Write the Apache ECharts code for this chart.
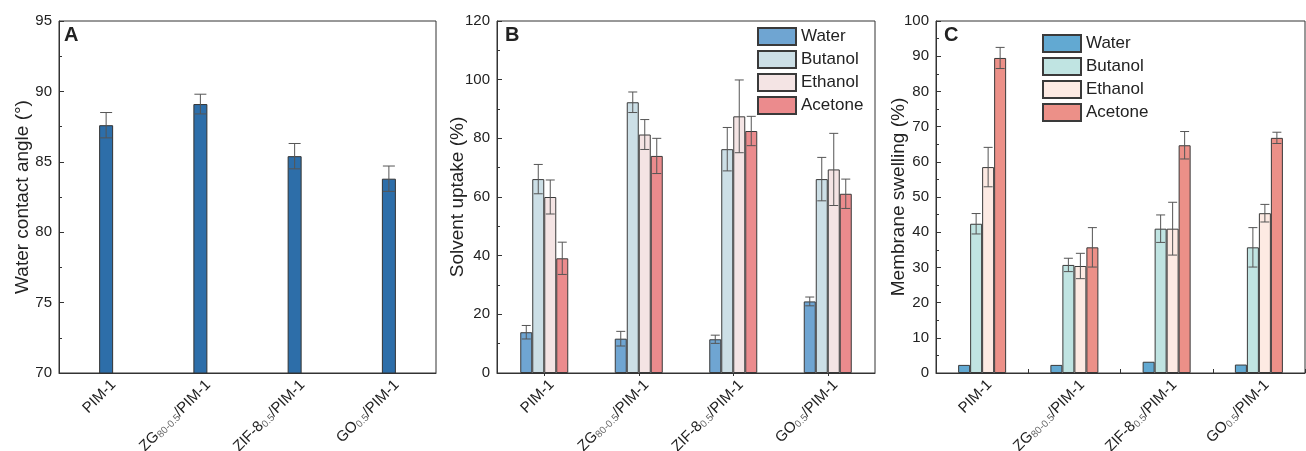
<!DOCTYPE html>
<html>
<head>
<meta charset="utf-8">
<script src="https://cdn.jsdelivr.net/npm/echarts@6/dist/echarts.min.js"></script>
<style>
html,body{margin:0;padding:0;background:#fff;}
#wrap{position:relative;width:1306px;height:451px;}
.pane{position:absolute;top:0;left:0;width:1306px;height:451px;}
</style>
</head>
<body>
<div id="wrap">
  <div id="ca" class="pane"></div>
  <div id="cb" class="pane"></div>
  <div id="cc" class="pane"></div>
</div>
<script>
// ---------- data ----------
const categories = ['PIM-1', 'ZG{s|80-0.5}/PIM-1', 'ZIF-8{s|0.5}/PIM-1', 'GO{s|0.5}/PIM-1'];
const solvents = ['Water', 'Butanol', 'Ethanol', 'Acetone'];

// Panel A: water contact angle (deg)
const contactAngle = [87.6, 89.1, 85.4, 83.8];
const contactAngleErr = [0.9, 0.7, 0.9, 0.9];

// Panel B: solvent uptake (%)
const uptakeWater   = [13.9, 11.7, 11.5, 24.4];
const uptakeButanol = [66.1, 92.3, 76.3, 66.1];
const uptakeEthanol = [60.0, 81.3, 87.5, 69.4];
const uptakeAcetone = [39.1, 74.0, 82.5, 61.1];
const uptakeWaterErr   = [2.3, 2.5, 1.4, 1.5];
const uptakeButanolErr = [5.0, 3.5, 7.4, 7.4];
const uptakeEthanolErr = [5.8, 5.1, 12.4, 12.3];
const uptakeAcetoneErr = [5.5, 6.0, 5.0, 5.0];

// Panel C: membrane swelling (%)
const swellWater   = [2.3, 2.3, 3.2, 2.4];
const swellButanol = [42.4, 30.7, 41.0, 35.7];
const swellEthanol = [58.5, 30.4, 41.0, 45.4];
const swellAcetone = [89.5, 35.7, 64.7, 66.8];
const swellWaterErr   = [0, 0, 0, 0];
const swellButanolErr = [2.9, 1.9, 3.9, 5.6];
const swellEthanolErr = [5.6, 3.6, 7.5, 2.5];
const swellAcetoneErr = [3.0, 5.6, 3.9, 1.6];

// ---------- styling ----------
const FONT = 'Liberation Sans, Arial, sans-serif';
const TXT = '#222';
const AX = '#333';
const colA = '#2D6EA9';
const colB = ['#6FA5D2', '#CCDFE6', '#F4E4E4', '#EB8B8D'];
const colC = ['#62A9D2', '#C0E4E2', '#FDEAE3', '#EC9088'];

function xAxisCfg(tick) {
  return {
    type: 'category',
    data: categories,
    axisLine: {lineStyle: {color: AX, width: 1}},
    axisTick: tick,
    axisLabel: {
      rotate: 45, margin: 2, verticalAlign: 'top', padding: [3, 0, 0, 0],
      color: TXT, fontSize: 15, fontFamily: FONT,
      rich: {s: {fontSize: 10, fontFamily: FONT, color: '#666', verticalAlign: 'bottom', padding: [6, 0, 0, 0]}}
    },
    splitLine: {show: false}
  };
}
function yAxisCfg(name, min, max, interval, gap) {
  return {
    type: 'value', min: min, max: max, interval: interval,
    name: name, nameLocation: 'middle', nameRotate: 90, nameGap: gap, nameMoveOverlap: false,
    nameTextStyle: {fontSize: 19, color: TXT, fontFamily: FONT},
    axisLine: {show: true, lineStyle: {color: AX, width: 1}},
    axisTick: {show: true, inside: true, length: 5, lineStyle: {color: AX}},
    minorTick: {show: true, splitNumber: 2, length: 3, lineStyle: {color: AX}},
    axisLabel: {color: TXT, fontSize: 15, fontFamily: FONT, margin: 7},
    splitLine: {show: false}
  };
}
function gridCfg(left, width) {
  return {left: left, top: 21, width: width, height: 352, show: true,
    borderColor: AX, borderWidth: 1, containLabel: false, outerBoundsMode: 'none'};
}
function errSeries(vals, errs, offset, cap) {
  return {
    type: 'custom', z: 5, silent: true,
    data: vals.map((v, i) => [i, v, errs[i]]),
    renderItem: function (params, api) {
      const e = api.value(2);
      if (!e) return null;
      const i = api.value(0), v = api.value(1);
      const hi = api.coord([i, v + e]);
      const lo = api.coord([i, v - e]);
      const x = hi[0] + offset;
      const st = {stroke: '#555', lineWidth: 1};
      return {type: 'group', children: [
        {type: 'line', shape: {x1: x, y1: hi[1], x2: x, y2: lo[1]}, style: st},
        {type: 'line', shape: {x1: x - cap / 2, y1: hi[1], x2: x + cap / 2, y2: hi[1]}, style: st},
        {type: 'line', shape: {x1: x - cap / 2, y1: lo[1], x2: x + cap / 2, y2: lo[1]}, style: st}
      ]};
    }
  };
}
function letter(t, left) {
  return {text: t, left: left, top: 25, padding: 0,
    textStyle: {fontSize: 20, fontWeight: 'bold', color: TXT, fontFamily: FONT}};
}

// ---------- Panel A ----------
const chA = echarts.init(document.getElementById('ca'), null, {renderer: 'canvas'});
chA.setOption({
  animation: false,
  title: letter('A', 64),
  grid: gridCfg(59, 377),
  xAxis: xAxisCfg({show: true, inside: true, alignWithLabel: true, length: 5, lineStyle: {color: AX}}),
  yAxis: yAxisCfg('Water contact angle (°)', 70, 95, 5, 27),
  series: [
    {type: 'bar', data: contactAngle, barWidth: 14,
     itemStyle: {color: colA, borderColor: '#333', borderWidth: 1}},
    errSeries(contactAngle, contactAngleErr, 0, 12)
  ]
});

// ---------- grouped panels ----------
function grouped(el, letterText, letterLeft, gridLeft, gridWidth, yName, max, interval, gap, vals, errs, cols, legendPos, tick) {
  const ch = echarts.init(document.getElementById(el), null, {renderer: 'canvas'});
  const BW = 12;
  const series = [];
  solvents.forEach((s, k) => {
    series.push({name: s, type: 'bar', data: vals[k], barWidth: BW, barGap: '0%',
      itemStyle: {color: cols[k], borderColor: '#3a3a3a', borderWidth: 1}});
  });
  solvents.forEach((s, k) => {
    series.push(errSeries(vals[k], errs[k], (k - 1.5) * BW, 9));
  });
  ch.setOption({
    animation: false,
    title: letter(letterText, letterLeft),
    legend: {
      data: solvents, orient: 'vertical', left: legendPos[0], top: legendPos[1], padding: 0,
      itemWidth: 38, itemHeight: 17, itemGap: 4, icon: 'rect', selectedMode: false,
      textStyle: {fontSize: 17, color: TXT, fontFamily: FONT}
    },
    grid: gridCfg(gridLeft, gridWidth),
    xAxis: xAxisCfg(tick),
    yAxis: yAxisCfg(yName, 0, max, interval, gap),
    series: series
  });
}

grouped('cb', 'B', 505, 497, 378, 'Solvent uptake (%)', 120, 20, 30,
  [uptakeWater, uptakeButanol, uptakeEthanol, uptakeAcetone],
  [uptakeWaterErr, uptakeButanolErr, uptakeEthanolErr, uptakeAcetoneErr],
  colB, [757, 27], {show: true, inside: false, alignWithLabel: true, length: 3, lineStyle: {color: AX}});

grouped('cc', 'C', 944, 936, 369, 'Membrane swelling (%)', 100, 10, 28,
  [swellWater, swellButanol, swellEthanol, swellAcetone],
  [swellWaterErr, swellButanolErr, swellEthanolErr, swellAcetoneErr],
  colC, [1042, 34], {show: true, inside: true, alignWithLabel: false, length: 4, lineStyle: {color: AX}});
</script>
</body>
</html>
